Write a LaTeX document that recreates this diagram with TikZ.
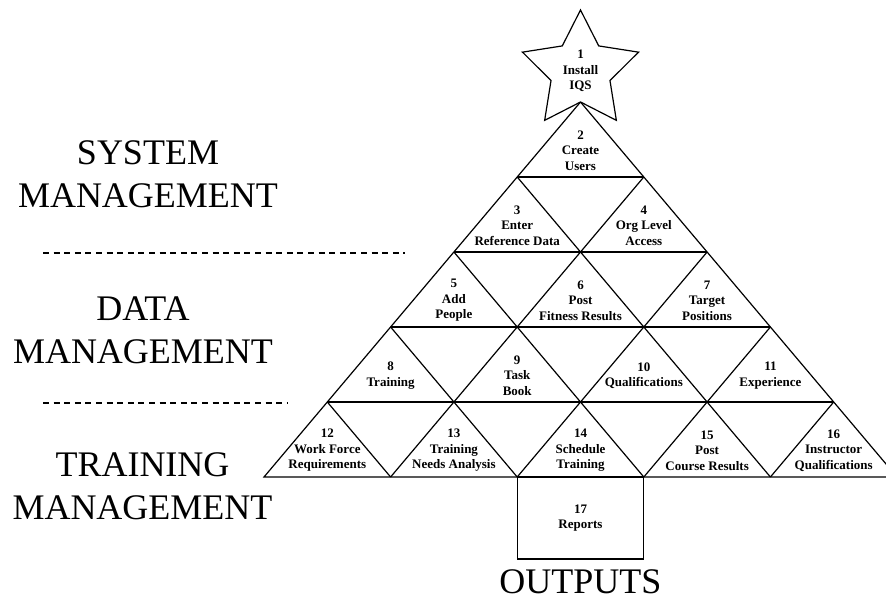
\documentclass[tikz,border=0pt]{standalone}
\usepackage{fontspec}
\setmainfont{Liberation Serif}
\usetikzlibrary{calc}

\begin{document}
\begin{tikzpicture}[x=1pt, y=-1pt, grid/.style={draw=black, line
      width=1.2pt, line join=miter}, steplabel/.style={font=\bfseries
      \fontsize{13}{15.5}\selectfont, align=center, inner sep=0pt},
      tier/.style={font=\fontsize{36}{43}\selectfont, align=center, inner
      sep=0pt}, divider/.style={line width=1.3pt, dash pattern=on 6pt off
      4.6pt} ]

    \path[use as bounding box, clip] (0,0) rectangle (886,601);

    % Pyramid outline
    \coordinate (top) at (580.5,102); \coordinate (bl) at (264,477);
    \coordinate (br) at (897,477);
    \draw[grid] (top) -- (bl) -- (br) -- cycle;

    % Rows and diagonals of the pyramid
    \foreach \k in {1,...,4} {
      \draw[grid] (580.5-63.3*\k,102+75*\k) -- (580.5+63.3*\k,102+75*\k);
      \draw[grid] (580.5-63.3*\k,102+75*\k) -- (580.5+316.5-126.6*\k,477);
      \draw[grid] (580.5+63.3*\k,102+75*\k) -- (580.5-316.5+126.6*\k,477);
    }

    % Star on top
    \foreach \i in {0,...,9} {
      \pgfmathsetmacro\rad{mod(\i,2)==0 ? 61 : 31}
      \coordinate (s\i) at ($(580.5,71)+(-90+36*\i:\rad)$);
    }
    \draw[grid, fill=white] (s0) -- (s1) -- (s2) -- (s3) -- (s4) -- (s5) --
    (s6) -- (s7) -- (s8) -- (s9) -- cycle;

    % Outputs box
    \node[grid, steplabel, minimum width=126.6pt, minimum height=82pt] (n17)
    at (580.5,518) {17\\Reports};

    % Step labels
    \node[steplabel] (n1) at (580.5,71) {1\\Install\\IQS};
    \node[steplabel] (n2) at (580.5,150.5) {2\\Create\\Users};
    \node[steplabel] (n3) at (517.2,225.5) {3\\Enter\\Reference Data};
    \node[steplabel] (n4) at (643.8,225.5) {4\\Org Level\\Access};
    \node[steplabel] (n5) at (453.9,300.5) {5\\Add\\People};
    \node[steplabel] (n6) at (580.5,300.5) {6\\Post\\Fitness Results};
    \node[steplabel] (n7) at (707.1,300.5) {7\\Target\\Positions};
    \node[steplabel] (n8) at (390.6,375.5) {8\\Training};
    \node[steplabel] (n9) at (517.2,375.5) {9\\Task\\Book};
    \node[steplabel] (n10) at (643.8,375.5) {10\\Qualifications};
    \node[steplabel] (n11) at (770.4,375.5) {11\\Experience};
    \node[steplabel] (n12) at (327.3,450.5) {12\\Work Force\\Requirements};
    \node[steplabel] (n13) at (453.9,450.5) {13\\Training\\Needs Analysis};
    \node[steplabel] (n14) at (580.5,450.5) {14\\Schedule\\Training};
    \node[steplabel] (n15) at (707.1,450.5) {15\\Post\\Course Results};
    \node[steplabel] (n16) at (833.7,450.5) {16\\Instructor\\Qualifications};

    % Tier labels
    \node[tier] (sysmgmt) at (148,174) {SYSTEM\\MANAGEMENT};
    \node[tier] (datamgmt) at (143,330) {DATA\\MANAGEMENT};
    \node[tier] (trainmgmt) at (142.5,486) {TRAINING\\MANAGEMENT};
    \node[tier] (outputs) at (580.5,582) {OUTPUTS};

    % Dividers between tiers
    \coordinate (d1a) at (43,253); \coordinate (d1b) at (405,253);
    \coordinate (d2a) at (43,403); \coordinate (d2b) at (287,403);
    \draw[divider] (d1a) -- (d1b); \draw[divider] (d2a) -- (d2b);

  \end{tikzpicture}
\end{document}
